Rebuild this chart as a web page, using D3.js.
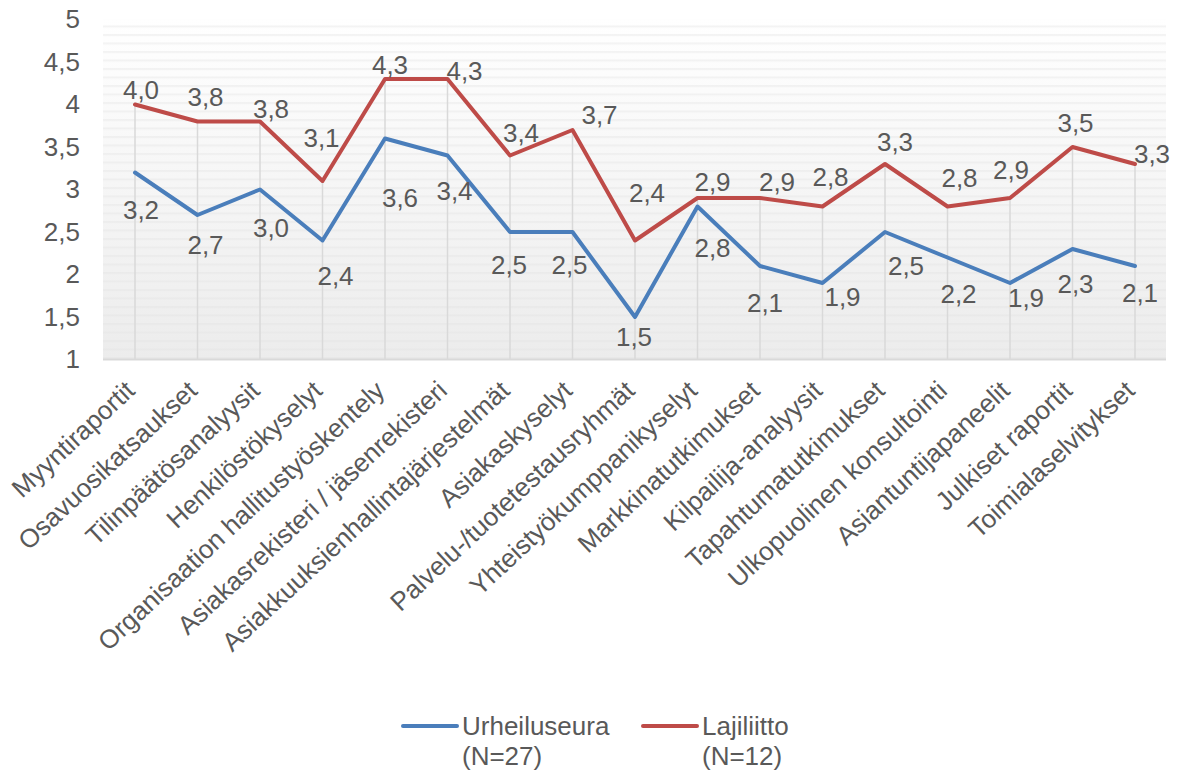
<!DOCTYPE html>
<html>
<head>
<meta charset="utf-8">
<script src="https://cdn.jsdelivr.net/npm/d3@7"></script>
<style>
  body { margin: 0; background: #fff; }
  svg text { font-family: "Liberation Sans", Arial, sans-serif; fill: #595959; }
</style>
</head>
<body>
<div id="chart"></div>
<script>
// categories and values
var categories = ["Myyntiraportit", "Osavuosikatsaukset", "Tilinpäätösanalyysit", "Henkilöstökyselyt",
  "Organisaation hallitustyöskentely", "Asiakasrekisteri / jäsenrekisteri", "Asiakkuuksienhallintajärjestelmät",
  "Asiakaskyselyt", "Palvelu-/tuotetestausryhmät", "Yhteistyökumppanikyselyt", "Markkinatutkimukset",
  "Kilpailija-analyysit", "Tapahtumatutkimukset", "Ulkopuolinen konsultointi", "Asiantuntijapaneelit",
  "Julkiset raportit", "Toimialaselvitykset"];
var urheiluseura = [3.2, 2.7, 3.0, 2.4, 3.6, 3.4, 2.5, 2.5, 1.5, 2.8, 2.1, 1.9, 2.5, 2.2, 1.9, 2.3, 2.1];
var lajiliitto   = [4.0, 3.8, 3.8, 3.1, 4.3, 4.3, 3.4, 3.7, 2.4, 2.9, 2.9, 2.8, 3.3, 2.8, 2.9, 3.5, 3.3];
var yTicks = [1, 1.5, 2, 2.5, 3, 3.5, 4, 4.5, 5];
var seriesNames = [["Urheiluseura", "(N=27)"], ["Lajiliitto", "(N=12)"]];
var seriesColors = ["#4a7ebb", "#be4b48"];

// hand-placed data labels in the original (pixel nudges from each point)
var blueNudge = [[6,37],[8,30],[11,38],[13,35],[15,59],[7,35],[-1,33],[-3,33],[-1,20],[15,41],[5,37],[20,14],[21,34],[11,36],[16,15],[3,35],[5,27]];
var redNudge  = [[6,-15],[8,-25],[11,-13],[-1,-43],[5,-14],[17,-8],[11,-23],[27,-15],[12,-48],[15,-16],[17,-16],[8,-30],[10,-22],[12,-29],[1,-28],[3,-24],[17,-10]];

var W = 1186, H = 771;
var plot = {left: 103, right: 1166, top: 19.5, bottom: 359.5};
var fontSize = 26;

var svg = d3.select("#chart").append("svg")
  .attr("width", W).attr("height", H);

var defs = svg.append("defs");
var grad = defs.append("linearGradient").attr("id", "bg")
  .attr("x1", 0).attr("y1", 0).attr("x2", 0).attr("y2", 1);
grad.append("stop").attr("offset", "0%").attr("stop-color", "#ffffff");
grad.append("stop").attr("offset", "100%").attr("stop-color", "#ececec");

// faint stripes, strongest near the top
var fade = defs.append("linearGradient").attr("id", "fade")
  .attr("x1", 0).attr("y1", 0).attr("x2", 0).attr("y2", 1);
fade.append("stop").attr("offset", "0%").attr("stop-color", "#fff").attr("stop-opacity", 1);
fade.append("stop").attr("offset", "100%").attr("stop-color", "#fff").attr("stop-opacity", 0.35);
defs.append("mask").attr("id", "fadeMask")
  .attr("maskContentUnits", "userSpaceOnUse")
  .append("rect")
  .attr("x", plot.left).attr("y", plot.top)
  .attr("width", plot.right - plot.left).attr("height", plot.bottom - plot.top)
  .attr("fill", "url(#fade)");

var pat = defs.append("pattern").attr("id", "stripes")
  .attr("patternUnits", "userSpaceOnUse")
  .attr("width", 10).attr("height", 8.5);
pat.append("rect").attr("x", 0).attr("y", 0).attr("width", 10).attr("height", 2)
  .attr("fill", "#000").attr("fill-opacity", 0.045);

var x = d3.scalePoint().domain(categories).range([135, 1135]);
var y = d3.scaleLinear().domain([1, 5]).range([plot.bottom, plot.top]);

// plot area background
svg.append("rect")
  .attr("x", plot.left).attr("y", plot.top)
  .attr("width", plot.right - plot.left).attr("height", plot.bottom - plot.top)
  .attr("fill", "url(#bg)");
svg.append("rect")
  .attr("x", plot.left).attr("y", plot.top)
  .attr("width", plot.right - plot.left).attr("height", plot.bottom - plot.top)
  .attr("fill", "url(#stripes)")
  .attr("mask", "url(#fadeMask)");

// drop lines
svg.append("g").selectAll("line")
  .data(categories)
  .enter().append("line")
  .attr("x1", function(d){ return x(d); })
  .attr("x2", function(d){ return x(d); })
  .attr("y1", function(d, i){ return y(Math.max(lajiliitto[i], urheiluseura[i])); })
  .attr("y2", plot.bottom)
  .attr("stroke", "#d9d9d9")
  .attr("stroke-width", 1.5);

// category axis line
svg.append("line")
  .attr("x1", plot.left).attr("x2", plot.right)
  .attr("y1", plot.bottom).attr("y2", plot.bottom)
  .attr("stroke", "#d9d9d9").attr("stroke-width", 2);

// y axis labels
var yAxis = d3.axisLeft(y).tickValues(yTicks).tickSize(0).tickPadding(0)
  .tickFormat(function(d){ return String(d).replace(".", ","); });
var yg = svg.append("g").attr("transform", "translate(80,0)").call(yAxis);
yg.select(".domain").remove();
yg.selectAll("text")
  .attr("font-size", fontSize)
  .attr("font-family", "Liberation Sans, Arial, sans-serif")
  .style("fill", "#595959");

// x axis labels, rotated
svg.append("g").selectAll("text")
  .data(categories)
  .enter().append("text")
  .attr("transform", function(d){ return "translate(" + (x(d) - 5) + ",386) rotate(-43)"; })
  .attr("text-anchor", "end")
  .attr("dy", "0.35em")
  .attr("font-size", fontSize)
  .text(function(d){ return d; });

var line = d3.line()
  .x(function(d, i){ return x(categories[i]); })
  .y(function(d){ return y(d); });

[urheiluseura, lajiliitto].forEach(function(vals, s){
  svg.append("path")
    .datum(vals)
    .attr("d", line)
    .attr("fill", "none")
    .attr("stroke", seriesColors[s])
    .attr("stroke-width", 4)
    .attr("stroke-linejoin", "round")
    .attr("stroke-linecap", "round");
});

function drawLabels(vals, nudge){
  svg.append("g").selectAll("text")
    .data(vals)
    .enter().append("text")
    .attr("x", function(d, i){ return x(categories[i]) + nudge[i][0]; })
    .attr("y", function(d, i){ return y(d) + nudge[i][1]; })
    .attr("dy", "0.35em")
    .attr("text-anchor", "middle")
    .attr("font-size", fontSize)
    .text(function(d){ return d.toFixed(1).replace(".", ","); });
}
drawLabels(urheiluseura, blueNudge);
drawLabels(lajiliitto, redNudge);

// legend
var legendX = [403, 643];
seriesNames.forEach(function(name, s){
  var g = svg.append("g").attr("transform", "translate(" + legendX[s] + ",726)");
  g.append("line").attr("x1", 0).attr("x2", 54).attr("y1", 0).attr("y2", 0)
    .attr("stroke", seriesColors[s]).attr("stroke-width", 4).attr("stroke-linecap", "round");
  var t = g.append("text").attr("x", 59).attr("y", 9).attr("font-size", fontSize);
  t.append("tspan").attr("x", 59).attr("dy", 0).text(name[0]);
  t.append("tspan").attr("x", 59).attr("dy", 30).text(name[1]);
});
</script>
</body>
</html>
